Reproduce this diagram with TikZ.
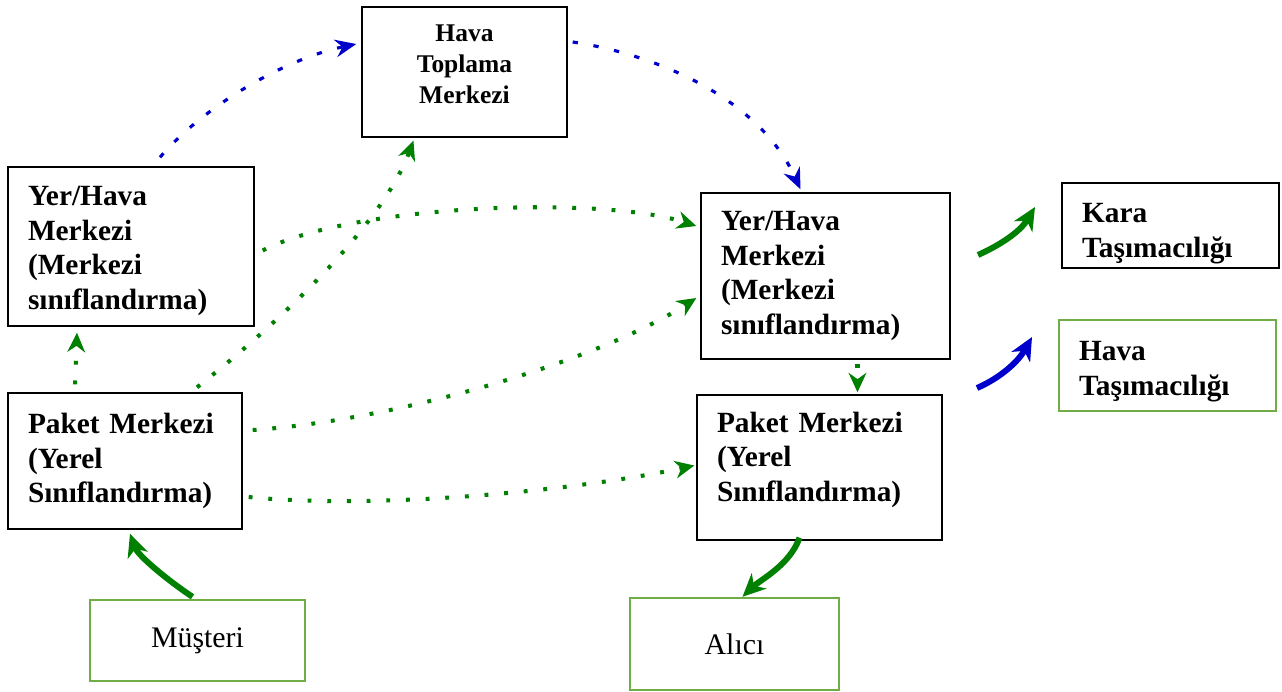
\documentclass[tikz,border=0pt]{standalone}
\usepackage{fontspec}
\setmainfont{Liberation Serif}
\usetikzlibrary{arrows.meta,calc}
\definecolor{arrowgreen}{RGB}{0,128,0}
\definecolor{arrowblue}{RGB}{0,0,204}
\definecolor{boxgreen}{RGB}{112,173,71}

\begin{document}
\begin{tikzpicture}[x = 0.02cm, y = -0.02cm,
                        hub/.style = {draw, line width = 0.8pt, align = left, inner xsep = 0.4cm, inner ysep = 0pt,
                                      font = \bfseries\fontsize{16.7}{19.6}\selectfont},
                        client/.style = {draw = boxgreen, line width = 1.4pt, inner sep = 0pt,
                                         font = \fontsize{17}{20}\selectfont},
                        greendots/.style = {draw = arrowgreen, line width = 2.3pt, dash pattern = on 2.2pt off 9pt,
                                            -{Stealth[length = 11pt, width = 10pt, inset = 3.5pt]}},
                        bluedots/.style = {draw = arrowblue, line width = 1.8pt, dash pattern = on 3pt off 9pt,
                                           -{Stealth[length = 12pt, width = 10pt, inset = 4pt]}},
                        greenflow/.style = {draw = arrowgreen, line width = 3.4pt,
                                            -{Stealth[length = 13pt, width = 12pt, inset = 4pt]}},
                        blueflow/.style = {draw = arrowblue, line width = 3.4pt,
                                           -{Stealth[length = 13pt, width = 12pt, inset = 4pt]}}]
    \useasboundingbox (0, 0) rectangle (1282, 691);
    % boxes
    \node [hub, align = center, text width = 3.3cm, minimum height = 2.6cm, text depth = 44pt,
           font = \bfseries\fontsize{14.5}{17.6}\selectfont] (air) at (464.5, 72) {Hava\\Toplama\\Merkezi};
    \node [hub, text width = 4.12cm, minimum height = 3.18cm, text height = 16pt] (hubL) at (131, 246.5)
          {Yer/Hava\\Merkezi\\(Merkezi\\sınıflandırma)};
    \node [hub, text width = 3.88cm, minimum height = 2.72cm] (pkgL) at (125, 461)
          {Paket Merkezi\\(Yerel\\Sınıflandırma)};
    \node [hub, text width = 4.18cm, minimum height = 3.32cm] (hubR) at (825.5, 276)
          {Yer/Hava\\Merkezi\\(Merkezi\\sınıflandırma)};
    \node [hub, text width = 4.1cm, minimum height = 2.9cm, text depth = 51.5pt] (pkgR) at (819.5, 467.5)
          {Paket Merkezi\\(Yerel\\Sınıflandırma)};
    \node [hub, text width = 3.54cm, minimum height = 1.7cm, text height = 20pt] (land) at (1170.5, 225.5)
          {Kara\\Taşımacılığı};
    \node [hub, draw = boxgreen, line width = 1.4pt, text width = 3.54cm, minimum height = 1.82cm,
           text height = 18pt] (airline) at (1167.5, 365.5) {Hava\\Taşımacılığı};
    \node [client, minimum width = 4.3cm, minimum height = 1.62cm] (client) at (197.5, 640.5) {Müşteri};
    \node [client, minimum width = 4.18cm, minimum height = 1.84cm] (receiver) at (734.5, 644) {Alıcı};
    % air flow
    \draw [bluedots] ($(hubL.north)+(29,-9)$) .. controls (200, 110) and (280, 60) .. ($(air.west)+(-5,-28)$);
    \draw [bluedots] ($(air.east)+(5,-30)$) .. controls (660, 55) and (760, 100) .. ($(hubR.north)+(-25,-3)$);
    % ground flow
    \draw [greendots] ($(hubL.east)+(8,4)$) .. controls (350, 205) and (600, 195) .. ($(hubR.west)+(-4,-50)$);
    \draw [greendots] ($(pkgL.north)+(72,-5)$) .. controls (270, 330) and (380, 230) .. ($(air.south)+(-51,3)$);
    \draw [greendots] ($(pkgL.east)+(10,-31)$) .. controls (400, 420) and (600, 360) .. ($(hubR.west)+(-4,22)$);
    \draw [greendots] ($(pkgL.east)+(6,36)$) .. controls (380, 510) and (580, 490) .. ($(pkgR.west)+(-2,-2)$);
    \draw [greendots] ($(pkgL.north)+(-50,-8)$) -- ($(hubL.south)+(-54,6)$);
    \draw [greendots] ($(hubR.south)+(32,4)$) -- ($(pkgR.north)+(38,-2)$);
    % customer and receiver
    \draw [greenflow] ($(client.north)+(-5,-2)$) .. controls (170, 582) and (138, 556) .. ($(pkgL.south)+(5,4)$);
    \draw [greenflow] ($(pkgR.south)+(-20,-3)$) .. controls (790, 565) and (760, 580) .. ($(receiver.north)+(8,0)$);
    % outgoing
    \coordinate (landtail) at (978, 255);
    \coordinate (landhead) at (1035, 207);
    \coordinate (airtail) at (977, 388);
    \coordinate (airhead) at (1032, 337);
    \draw [greenflow] (landtail) .. controls (1000, 245) and (1020, 232) .. (landhead);
    \draw [blueflow] (airtail) .. controls (1000, 378) and (1018, 362) .. (airhead);
  \end{tikzpicture}
\end{document}
